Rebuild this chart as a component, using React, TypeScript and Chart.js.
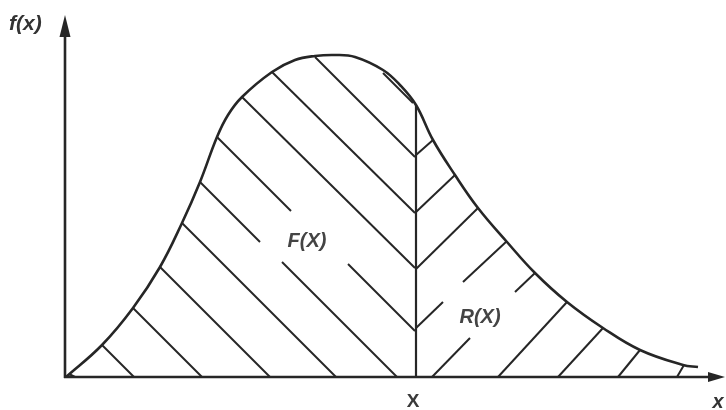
import React, { useEffect, useRef } from "react";
import { Chart, registerables } from "chart.js";

Chart.register(...registerables);

// Density curve f(x) (data units)
const curveX = [1, 37, 68, 95, 117, 135, 152, 163, 177, 207, 230, 250, 270, 290, 318, 335, 351, 368, 390, 413, 442, 470, 502, 538, 575, 618, 633];
const curveY = [0, 32, 69, 110, 154, 195, 240, 262, 280, 305, 317, 321, 322, 320, 307, 292, 272, 237, 202, 169, 135, 104, 75, 49, 27, 12, 10];

// Threshold X
const thresholdX = 351;
const thresholdTop = 272;

// Hatch segments [x1, y1, x2, y2] for F(X) region ("\" lines)
const hatchF = [
  [4, 3, 10, 0],
  [37, 32, 69, 0],
  [68, 69, 137, 0],
  [95, 110, 205, 0],
  [117, 154, 271, 0],
  [135, 195, 195, 135],
  [217, 115, 332, 0],
  [152, 240, 226, 166],
  [283, 113, 350, 46],
  [177, 280, 350, 109],
  [207, 305, 350, 164],
  [250, 320, 350, 220],
  [318, 304, 348, 274],
];

// Hatch segments for R(X) region ("/" lines)
const hatchR = [
  [351, 222, 368, 237],
  [351, 165, 390, 202],
  [351, 108, 413, 169],
  [351, 49, 378, 75],
  [398, 95, 442, 136],
  [367, 0, 405, 39],
  [450, 85, 470, 104],
  [433, 0, 502, 75],
  [493, 0, 538, 49],
  [553, 0, 575, 27],
  [612, 0, 619, 12],
];

const X_MAX = 661;
const Y_MAX = 362;

const INK = "#262626";

const axesPlugin = {
  id: "axesArrows",
  afterDatasetsDraw(chart: any) {
    const { ctx, chartArea, scales } = chart;
    const x0 = scales.x.getPixelForValue(0);
    const y0 = scales.y.getPixelForValue(0);
    ctx.save();
    ctx.strokeStyle = INK;
    ctx.fillStyle = INK;
    ctx.lineWidth = 2.6;
    ctx.lineCap = "butt";
    // y axis
    ctx.beginPath();
    ctx.moveTo(x0, y0 + 1);
    ctx.lineTo(x0, chartArea.top + 20);
    ctx.stroke();
    ctx.beginPath();
    ctx.moveTo(x0, chartArea.top);
    ctx.lineTo(x0 - 5.5, chartArea.top + 22);
    ctx.lineTo(x0 + 5.5, chartArea.top + 22);
    ctx.closePath();
    ctx.fill();
    // x axis
    ctx.beginPath();
    ctx.moveTo(x0 - 1, y0);
    ctx.lineTo(chartArea.right - 16, y0);
    ctx.stroke();
    ctx.beginPath();
    ctx.moveTo(chartArea.right - 1, y0);
    ctx.lineTo(chartArea.right - 18, y0 - 5);
    ctx.lineTo(chartArea.right - 18, y0 + 5);
    ctx.closePath();
    ctx.fill();

    // labels
    ctx.fillStyle = "#333";
    ctx.textBaseline = "middle";
    ctx.textAlign = "left";
    ctx.font = "italic bold 21px 'Liberation Sans', Arial, sans-serif";
    ctx.fillText("f(x)", 9, chartArea.top + 9);
    ctx.textAlign = "center";
    ctx.font = "italic bold 20px 'Liberation Sans', Arial, sans-serif";
    ctx.fillText("x", chartArea.right - 8, y0 + 25);
    ctx.font = "bold 19px 'Liberation Sans', Arial, sans-serif";
    ctx.fillStyle = "#3a3a3a";
    ctx.fillText("X", scales.x.getPixelForValue(thresholdX) - 3, y0 + 25);
    ctx.font = "italic bold 20px 'Liberation Sans', Arial, sans-serif";
    ctx.fillStyle = "#444";
    ctx.fillText("F(X)", scales.x.getPixelForValue(242), scales.y.getPixelForValue(136));
    ctx.fillText("R(X)", scales.x.getPixelForValue(415), scales.y.getPixelForValue(60));
    ctx.restore();
  },
};

function segDataset(s: number[], width: number) {
  return {
    data: [
      { x: s[0], y: s[1] },
      { x: s[2], y: s[3] },
    ],
    borderColor: INK,
    borderWidth: width,
    pointRadius: 0,
    fill: false,
    tension: 0,
    clip: false as any,
  };
}

export default function App() {
  const ref = useRef<HTMLCanvasElement | null>(null);
  useEffect(() => {
    if (!ref.current) return;
    const datasets: any[] = [
      {
        data: curveX.map((x, i) => ({ x, y: curveY[i] })),
        borderColor: INK,
        borderWidth: 2.6,
        pointRadius: 0,
        fill: false,
        tension: 0.4,
        clip: false,
      },
      segDataset([thresholdX, 0, thresholdX, thresholdTop], 2.2),
      ...hatchF.map((s) => segDataset(s, 2)),
      ...hatchR.map((s) => segDataset(s, 2)),
    ];
    const chart = new Chart(ref.current, {
      type: "line",
      data: { datasets },
      options: {
        animation: false,
        responsive: false,
        maintainAspectRatio: false,
        layout: { padding: { left: 65, right: 0, top: 15, bottom: 33 } },
        scales: {
          x: { type: "linear", min: 0, max: X_MAX, display: false },
          y: { type: "linear", min: 0, max: Y_MAX, display: false },
        },
        plugins: { legend: { display: false }, tooltip: { enabled: false } },
        events: [],
      },
      plugins: [axesPlugin],
    });
    return () => chart.destroy();
  }, []);
  return (
    <div style={{ position: "fixed", left: 0, top: 0, width: 726, height: 410, background: "#fff" }}>
      <canvas ref={ref} width={726} height={410} style={{ width: 726, height: 410, display: "block" }} />
    </div>
  );
}
